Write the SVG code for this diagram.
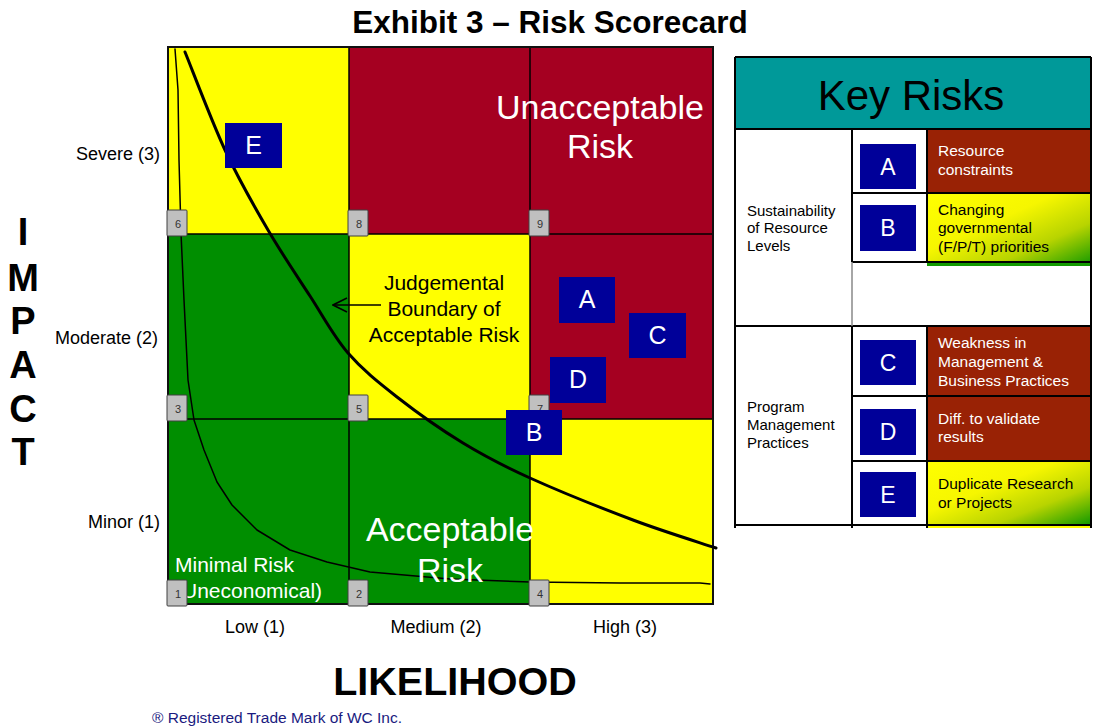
<svg xmlns="http://www.w3.org/2000/svg" width="1097" height="727" viewBox="0 0 1097 727">
  <defs>
    <style>
      text { font-family: "Liberation Sans", Arial, sans-serif; }
      .title { font-size: 31.5px; font-weight: bold; fill: #000; text-anchor: middle; }
      .axisbig { font-size: 38px; font-weight: bold; fill: #000; text-anchor: middle; }
      .axisword { font-size: 39.5px; }
      .axislbl { font-size: 18px; fill: #000; }
      .zone { font-size: 34px; fill: #fff; text-anchor: middle; }
      .note { font-size: 21px; fill: #000; text-anchor: middle; }
      .minimal { font-size: 21px; fill: #fff; }
      .tag rect { fill: #c0c0c0; stroke: #404040; stroke-width: 1; }
      .tag text { font-size: 11px; fill: #333; text-anchor: middle; }
      .badge rect { fill: #000099; }
      .badge text { font-size: 25px; fill: #fff; text-anchor: middle; }
      .tbadge text { font-size: 23px; }
      .grid { stroke: #000; stroke-width: 1.5; fill: none; }
      .tline { stroke: #000; stroke-width: 2; fill: none; }
      .cat { font-size: 15px; fill: #000; }
      .desc { font-size: 15.5px; }
      .desc.light { fill: #fff; }
      .desc.dark { fill: #000; }
      .yellow { fill: #ffff00; }
      .red { fill: #a50021; }
      .green { fill: #008e00; }
      .brick { fill: #992205; }
      .footer { font-size: 15.5px; fill: #1a1a80; }
    </style>
    <linearGradient id="yg" x1="0" y1="0" x2="1" y2="1">
      <stop offset="0" stop-color="#ffff00"/>
      <stop offset="0.4" stop-color="#f6f600"/>
      <stop offset="0.7" stop-color="#b8d400"/>
      <stop offset="1" stop-color="#0f9800"/>
    </linearGradient>
    <marker id="openArrow" markerWidth="16" markerHeight="16" refX="15" refY="8" orient="auto" markerUnits="userSpaceOnUse">
      <path d="M1,1 L15,8 L1,15" fill="none" stroke="#000" stroke-width="1.6"/>
    </marker>
  </defs>

  <rect width="1097" height="727" fill="#fff"/>

  <text class="title" x="550" y="33">Exhibit 3 – Risk Scorecard</text>

  <!-- risk matrix cells -->
  <g id="matrix">
    <rect class="yellow" x="168" y="47" width="181" height="187"/>
    <rect class="red" x="349" y="47" width="181" height="187"/>
    <rect class="red" x="530" y="47" width="183" height="187"/>
    <rect class="green" x="168" y="234" width="181" height="185"/>
    <rect class="yellow" x="349" y="234" width="181" height="185"/>
    <rect class="red" x="530" y="234" width="183" height="185"/>
    <rect class="green" x="168" y="419" width="181" height="185"/>
    <rect class="green" x="349" y="419" width="181" height="185"/>
    <rect class="yellow" x="530" y="419" width="183" height="185"/>
    <path class="grid" d="M349,47 V604 M530,47 V604 M168,234 H713 M168,419 H713"/>
    <rect x="168" y="47" width="545" height="557" fill="none" stroke="#111" stroke-width="2"/>
  </g>

  <!-- acceptance boundary curves -->
  <g id="curves" fill="none" stroke="#000" stroke-linejoin="round" stroke-linecap="round">
    <polyline stroke-width="1.5" points="175,49 178,90 179,160 181,233 184,300 188,380 194,420 204,450 217,482 232,505 257,530 290,550 327,562 370,572 450,579 530,582 620,583 700,583 710,584"/>
    <path stroke-width="3" d="M185,52 C191.7,68.3 211.2,120.3 225,150 C238.8,179.7 253.8,205.7 268,230 C282.2,254.3 296.7,275.5 310,296 C323.3,316.5 333.5,336.2 348,353 C362.5,369.8 377.8,382 397,397 C416.2,412 440.8,429.5 463,443 C485.2,456.5 501.7,465.2 530,478 C558.3,490.8 602,508.3 633,520 C664,531.7 702.2,543.3 716,548"/>
  </g>

  <!-- zone labels -->
  <g id="zone-unacceptable">
    <text class="zone" x="600" y="119">Unacceptable</text>
    <text class="zone" x="600" y="158">Risk</text>
  </g>
  <g id="zone-acceptable">
    <text class="zone" x="450" y="541">Acceptable</text>
    <text class="zone" x="450" y="582">Risk</text>
  </g>
  <g id="zone-minimal">
    <text class="minimal" x="175" y="572">Minimal Risk</text>
    <text class="minimal" x="175" y="598">(Uneconomical)</text>
  </g>
  <g id="boundary-note">
    <text class="note" x="444" y="290">Judgemental</text>
    <text class="note" x="444" y="316">Boundary of</text>
    <text class="note" x="444" y="342">Acceptable Risk</text>
  </g>

  <g id="connectors">
    <line x1="381" y1="305" x2="333" y2="305" stroke="#000" stroke-width="1.6" marker-end="url(#openArrow)"/>
  </g>

  <!-- cell score tags -->
  <g id="tags">
    <g class="tag"><rect x="167" y="210" width="20" height="26" rx="1"/><text x="178" y="228">6</text></g>
    <g class="tag"><rect x="348" y="210" width="20" height="26" rx="1"/><text x="359" y="228">8</text></g>
    <g class="tag"><rect x="529" y="210" width="20" height="26" rx="1"/><text x="540" y="228">9</text></g>
    <g class="tag"><rect x="167" y="395" width="20" height="26" rx="1"/><text x="178" y="413">3</text></g>
    <g class="tag"><rect x="348" y="395" width="20" height="26" rx="1"/><text x="359" y="413">5</text></g>
    <g class="tag"><rect x="529" y="395" width="20" height="26" rx="1"/><text x="540" y="413">7</text></g>
    <g class="tag"><rect x="167" y="580" width="20" height="26" rx="1"/><text x="178" y="598">1</text></g>
    <g class="tag"><rect x="348" y="580" width="20" height="26" rx="1"/><text x="359" y="598">2</text></g>
    <g class="tag"><rect x="529" y="580" width="20" height="26" rx="1"/><text x="540" y="598">4</text></g>
  </g>

  <!-- risk badges placed on the matrix -->
  <g id="risk-E" class="badge"><rect x="225" y="123" width="57" height="45"/><text x="253.5" y="154">E</text></g>
  <g id="risk-A" class="badge"><rect x="559" y="277" width="56" height="46"/><text x="587" y="308">A</text></g>
  <g id="risk-C" class="badge"><rect x="629" y="313" width="57" height="45"/><text x="657.5" y="344">C</text></g>
  <g id="risk-D" class="badge"><rect x="550" y="357" width="56" height="46"/><text x="578" y="388">D</text></g>
  <g id="risk-B" class="badge"><rect x="506" y="410" width="56" height="45"/><text x="534" y="441">B</text></g>

  <!-- axes -->
  <g id="impact-axis">
    <text class="axisbig" x="23" y="245">I</text>
    <text class="axisbig" x="23" y="291">M</text>
    <text class="axisbig" x="23" y="334">P</text>
    <text class="axisbig" x="23" y="378">A</text>
    <text class="axisbig" x="23" y="422">C</text>
    <text class="axisbig" x="23" y="465">T</text>
    <text class="axislbl" x="160" y="160" text-anchor="end">Severe (3)</text>
    <text class="axislbl" x="158" y="344" text-anchor="end">Moderate (2)</text>
    <text class="axislbl" x="160" y="528" text-anchor="end">Minor (1)</text>
  </g>
  <g id="likelihood-axis">
    <text class="axislbl" x="255" y="633" text-anchor="middle">Low (1)</text>
    <text class="axislbl" x="436" y="633" text-anchor="middle">Medium (2)</text>
    <text class="axislbl" x="625" y="633" text-anchor="middle">High (3)</text>
    <text class="axisbig axisword" x="455" y="695">LIKELIHOOD</text>
  </g>

  <!-- key risks table -->
  <g id="key-risks">
    <rect x="735" y="57" width="356" height="72" fill="#009999"/>
    <text x="911" y="110" font-size="42" text-anchor="middle" fill="#000">Key Risks</text>
    <rect x="735" y="129" width="356" height="398" fill="#fff"/>

    <g id="row-A">
      <rect class="brick" x="927" y="129" width="164" height="64"/>
      <g class="badge tbadge"><rect x="860" y="144" width="56" height="45"/><text x="888" y="175">A</text></g>
      <text class="desc light" x="938" y="156">Resource</text>
      <text class="desc light" x="938" y="175">constraints</text>
    </g>
    <g id="row-B">
      <rect x="927" y="193" width="164" height="73" fill="url(#yg)"/>
      <rect x="927" y="262" width="164" height="4" fill="#129a00"/>
      <g class="badge tbadge"><rect x="860" y="205" width="56" height="46"/><text x="888" y="236">B</text></g>
      <text class="desc dark" x="938" y="215">Changing</text>
      <text class="desc dark" x="938" y="233">governmental</text>
      <text class="desc dark" x="938" y="252">(F/P/T) priorities</text>
    </g>
    <g id="row-C">
      <rect class="brick" x="927" y="326" width="164" height="70"/>
      <g class="badge tbadge"><rect x="860" y="340" width="56" height="45"/><text x="888" y="371">C</text></g>
      <text class="desc light" x="938" y="348">Weakness in</text>
      <text class="desc light" x="938" y="367">Management &amp;</text>
      <text class="desc light" x="938" y="386">Business Practices</text>
    </g>
    <g id="row-D">
      <rect class="brick" x="927" y="396" width="164" height="65"/>
      <g class="badge tbadge"><rect x="860" y="409" width="56" height="46"/><text x="888" y="440">D</text></g>
      <text class="desc light" x="938" y="424">Diff. to  validate</text>
      <text class="desc light" x="938" y="442">results</text>
    </g>
    <g id="row-E">
      <rect x="927" y="461" width="164" height="64" fill="url(#yg)"/>
      <rect x="927" y="525" width="164" height="3" fill="#ffff00"/>
      <g class="badge tbadge"><rect x="860" y="472" width="56" height="45"/><text x="888" y="503">E</text></g>
      <text class="desc dark" x="938" y="489">Duplicate Research</text>
      <text class="desc dark" x="938" y="508">or Projects</text>
    </g>

    <g id="cat-sustainability">
      <text class="cat" x="747" y="216">Sustainability</text>
      <text class="cat" x="747" y="233">of Resource</text>
      <text class="cat" x="747" y="251">Levels</text>
    </g>
    <g id="cat-program">
      <text class="cat" x="747" y="412">Program</text>
      <text class="cat" x="747" y="430">Management</text>
      <text class="cat" x="747" y="448">Practices</text>
    </g>

    <!-- table rules -->
    <path class="tline" d="M735,57 H1091 M735,57 V528 M1091,57 V528 M735,129 H1091 M852,129 V262 M852,326 V528 M927,129 V262 M927,326 V528 M852,193 H1091 M852,262 H1091 M735,326 H1091 M852,396 H1091 M852,461 H1091 M735,525 H1091"/>
    <path d="M852,262 V326" stroke="#888" stroke-width="1.5"/>
  </g>

  <text class="footer" x="152" y="723">® Registered Trade Mark of WC Inc.</text>
</svg>
